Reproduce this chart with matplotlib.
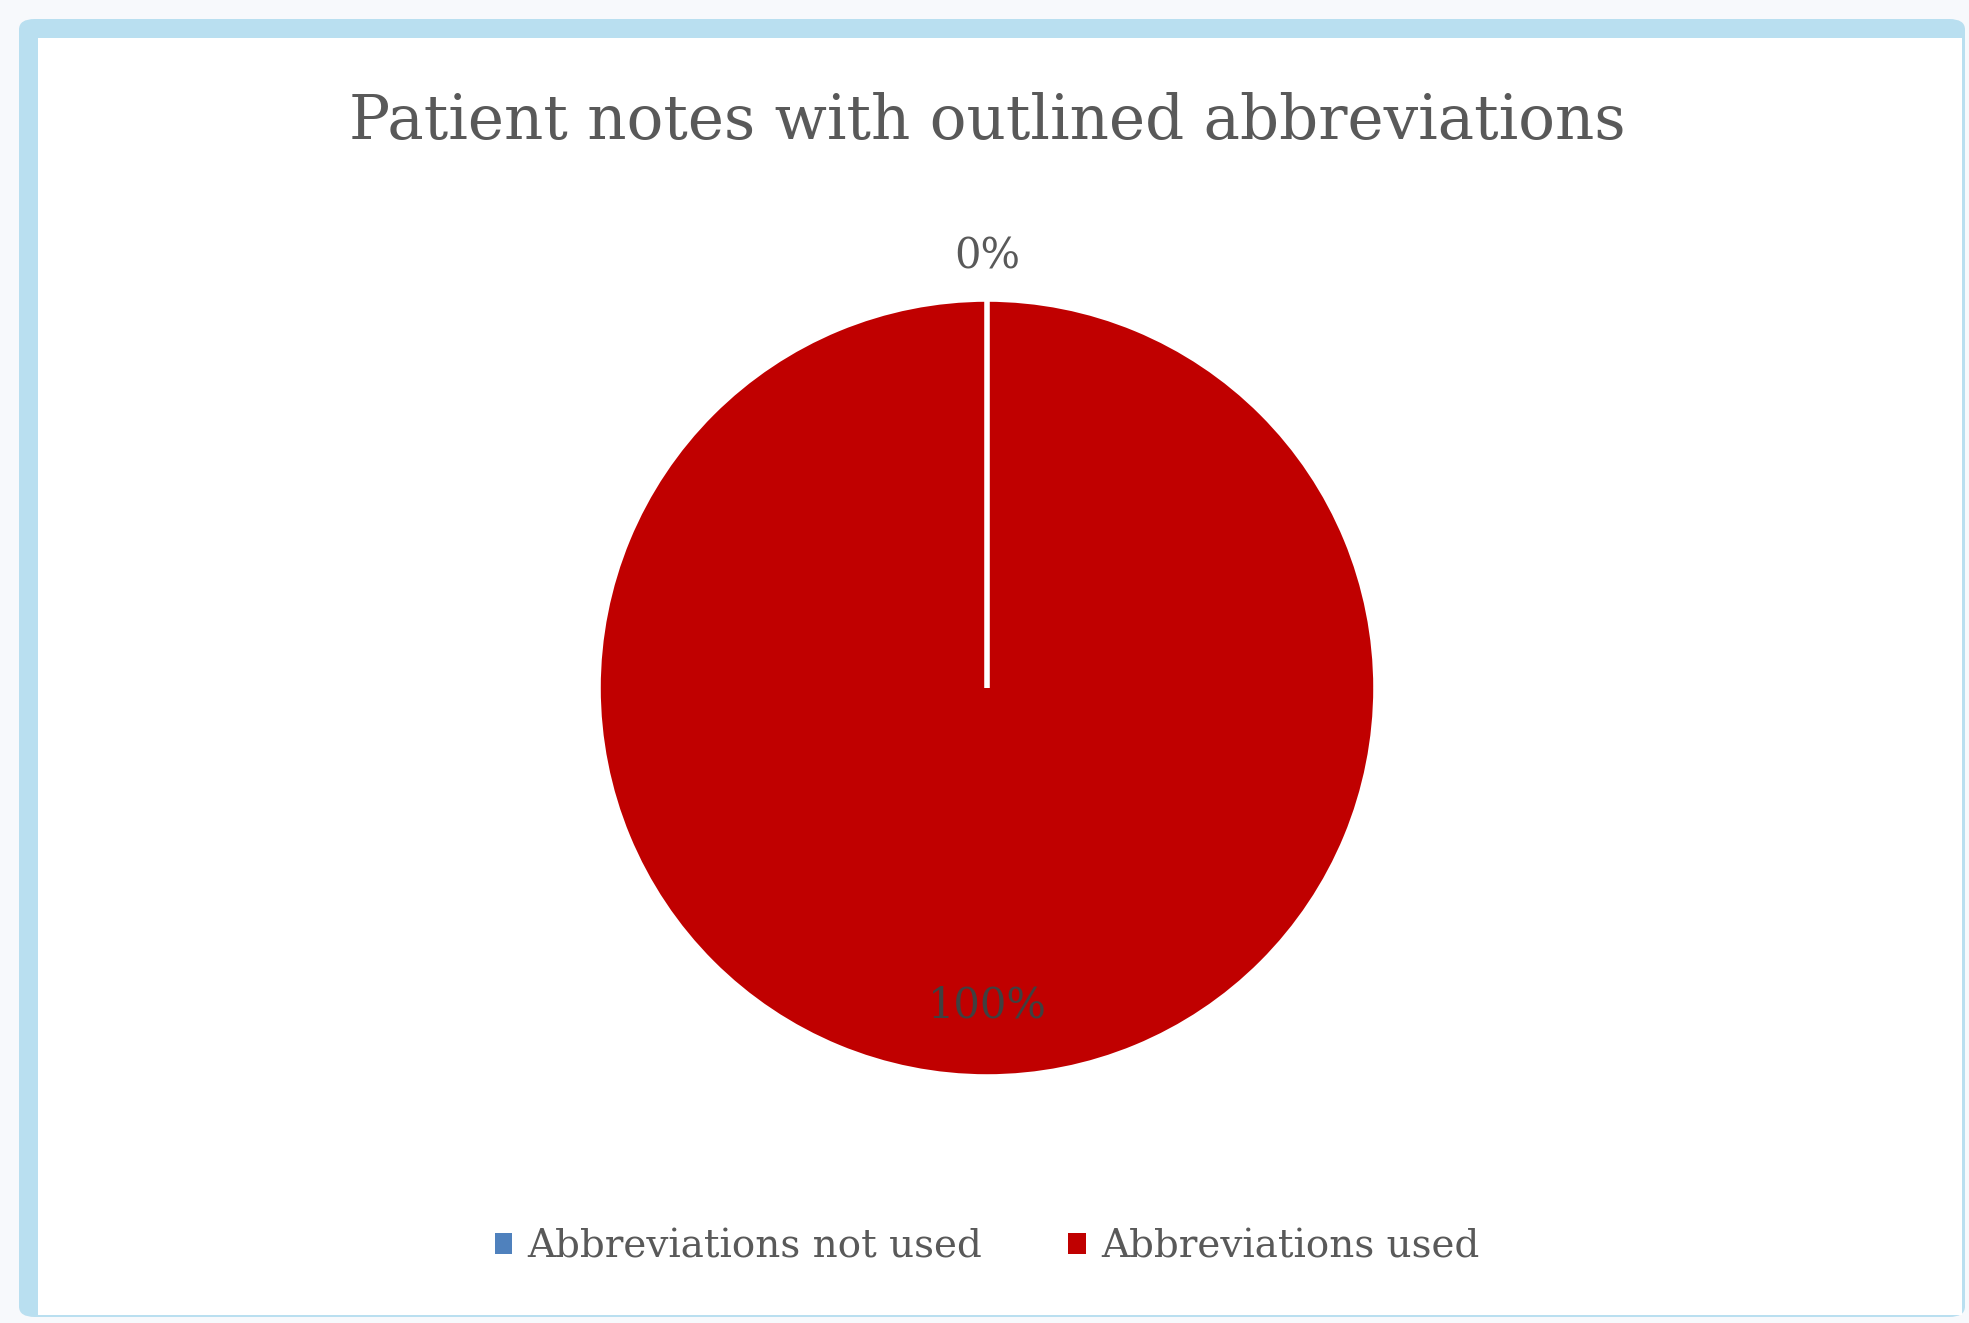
import numpy as np
import matplotlib.pyplot as plt
from matplotlib.patches import FancyBboxPatch, Rectangle

labels = ['Abbreviations not used', 'Abbreviations used']
values = [0, 100]
colors = ['#4F81BD', '#C00000']
title = 'Patient notes with outlined abbreviations'

W, H = 1969, 1323
fig = plt.figure(figsize=(W / 100, H / 100), dpi=100)
fig.patch.set_facecolor('#f7f9fc')

# light blue frame around the chart area
frame = FancyBboxPatch((19 / W, 6 / H), 1946 / W, 1298 / H,
                       boxstyle='round,pad=0,rounding_size=0.008',
                       transform=fig.transFigure, facecolor='#b9dff0',
                       edgecolor='none', zorder=-2)
fig.patches.append(frame)
inner = Rectangle((38 / W, 8 / H), 1924 / W, 1277 / H, transform=fig.transFigure,
                  facecolor='white', edgecolor='none', zorder=-1)
fig.patches.append(inner)

font = 'DejaVu Serif'
txt = '#595959'

cx, cy, r = 987, 688, 389
half = 1.2 * r
ax = fig.add_axes([(cx - half) / W, (H - cy - half) / H, 2 * half / W, 2 * half / H])
ax.patch.set_alpha(0)
wedges, texts, autotexts = ax.pie(values, colors=colors, startangle=90, counterclock=False,
                                  autopct='%1.0f%%',
                                  wedgeprops=dict(edgecolor='white', linewidth=4),
                                  textprops=dict(family=font, fontsize=30, color=txt))
# the empty slice is only visible as its white border line
wedges[0].set_zorder(5)
ax.set_xlim(-1.2, 1.2)
ax.set_ylim(-1.2, 1.2)
ax.set_aspect('equal')

# label positions: small slice outside, big slice inside
dists = [1.11, 0.815]
for w, t, d in zip(wedges, autotexts, dists):
    ang = np.deg2rad((w.theta1 + w.theta2) / 2)
    t.set_position((d * np.cos(ang), d * np.sin(ang)))
    t.set_color('#404040' if d < 1 else txt)
    t.set_zorder(6)

fig.text(cx / W, 1 - 122 / H, title, ha='center', va='center',
         family=font, fontsize=44, color=txt)

handles = [Rectangle((0, 0), 1, 1, facecolor=c) for c in colors]
fig.legend(handles, labels, loc='center', bbox_to_anchor=(cx / W, 1 - 1247 / H),
           ncol=2, frameon=False, prop=dict(family=font, size=28),
           labelcolor=txt, handlelength=0.45, handleheight=0.45,
           handletextpad=0.4, columnspacing=2.2)

fig.savefig('out.png', dpi=100, facecolor=fig.get_facecolor())
